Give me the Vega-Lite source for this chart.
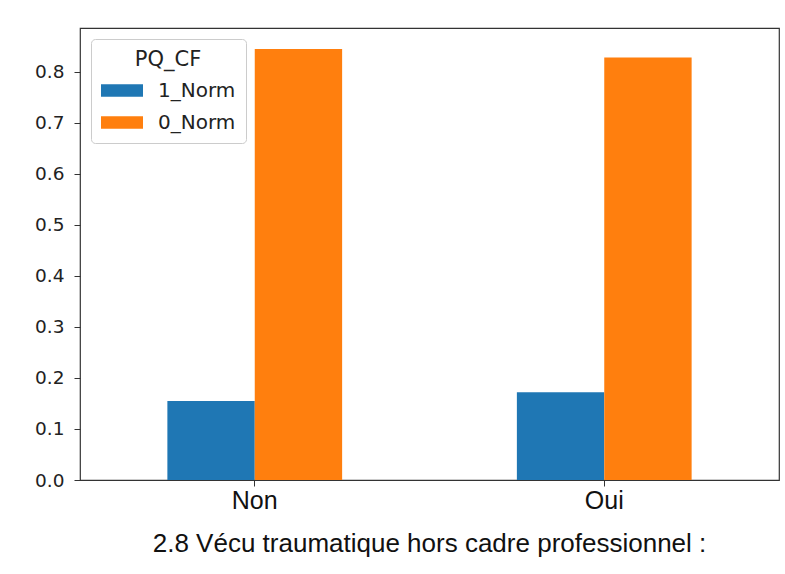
{
  "$schema": "https://vega.github.io/schema/vega-lite/v6.json",
  "width": 699,
  "height": 452,
  "autosize": {"type": "none"},
  "padding": {"left": 80, "top": 28, "right": 6, "bottom": 94},
  "background": "white",
  "title": {
    "text": "2.8 Vécu traumatique hors cadre professionnel :",
    "orient": "bottom",
    "anchor": "middle",
    "frame": "group",
    "offset": 18,
    "font": "Liberation Sans",
    "fontSize": 26,
    "fontWeight": "normal",
    "color": "#111"
  },
  "data": {
    "values": [
      {"categorie": "Non", "PQ_CF": "1_Norm", "valeur": 0.155},
      {"categorie": "Non", "PQ_CF": "0_Norm", "valeur": 0.845},
      {"categorie": "Oui", "PQ_CF": "1_Norm", "valeur": 0.172},
      {"categorie": "Oui", "PQ_CF": "0_Norm", "valeur": 0.828}
    ]
  },
  "mark": {"type": "bar"},
  "encoding": {
    "x": {
      "field": "categorie",
      "type": "nominal",
      "sort": ["Non", "Oui"],
      "scale": {"paddingInner": 0.5, "paddingOuter": 0.25},
      "axis": {
        "title": null,
        "labelAngle": 0,
        "labelFont": "Liberation Sans",
        "labelFontSize": 25,
        "labelColor": "#111",
        "labelPadding": 2,
        "tickSize": 6,
        "tickColor": "#333",
        "domain": false
      }
    },
    "xOffset": {"field": "PQ_CF", "type": "nominal", "sort": ["1_Norm", "0_Norm"], "scale": {"paddingInner": 0, "paddingOuter": 0}},
    "y": {
      "field": "valeur",
      "type": "quantitative",
      "scale": {"domain": [0, 0.886], "nice": false, "zero": true},
      "axis": {
        "title": null,
        "values": [0, 0.1, 0.2, 0.3, 0.4, 0.5, 0.6, 0.7, 0.8],
        "format": ".1f",
        "grid": false,
        "domain": false,
        "labelFont": "DejaVu Sans",
        "labelFontSize": 18.5,
        "labelColor": "#222",
        "labelPadding": 10,
        "tickSize": 6,
        "tickColor": "#333"
      }
    },
    "color": {
      "field": "PQ_CF",
      "type": "nominal",
      "sort": ["1_Norm", "0_Norm"],
      "scale": {"domain": ["1_Norm", "0_Norm"], "range": ["#1f77b4", "#ff7f0e"]},
      "legend": {
        "title": "PQ_CF",
        "orient": "top-left",
        "offset": 11,
        "padding": 10,
        "strokeColor": "#cccccc",
        "fillColor": "white",
        "cornerRadius": 4,
        "titleFont": "DejaVu Sans",
        "titleFontSize": 21,
        "titleFontWeight": "normal",
        "titleColor": "#222",
        "titleAnchor": "middle",
        "titlePadding": 10,
        "labelFont": "DejaVu Sans",
        "labelFontSize": 20,
        "labelColor": "#222",
        "symbolType": "M-1,-0.6H3V0.6H-1Z",
        "symbolSize": 441,
        "symbolStrokeWidth": 0,
        "symbolOpacity": 1,
        "labelOffset": 36,
        "rowPadding": 11
      }
    }
  },
  "config": {
    "view": {"stroke": "#333", "strokeWidth": 1.2},
    "bar": {"stroke": null}
  }
}
